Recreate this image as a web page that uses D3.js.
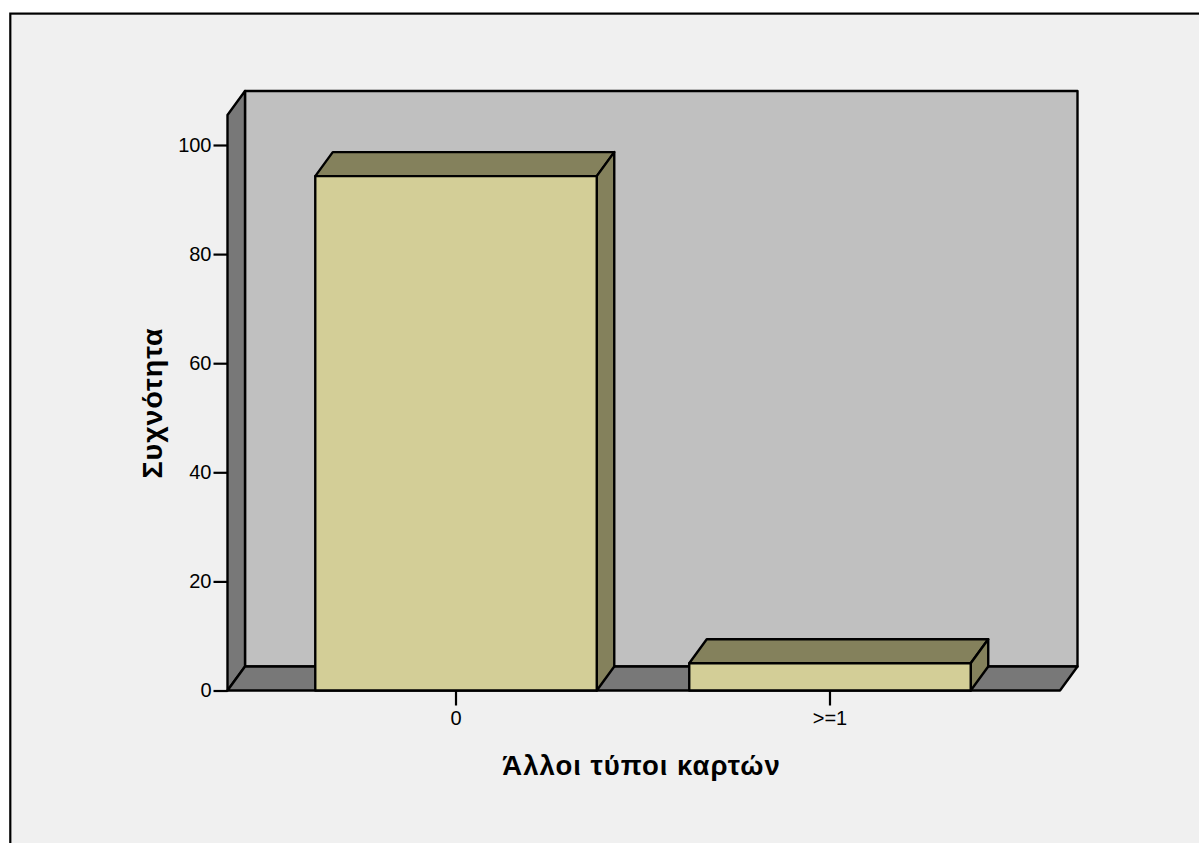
<!DOCTYPE html>
<html><head><meta charset="utf-8">
<style>html,body{margin:0;padding:0;background:#fff}svg{display:block}text{font-family:"Liberation Sans",Arial,sans-serif;fill:#000}</style>
<script src="https://cdn.jsdelivr.net/npm/d3@7"></script></head><body>
<script>
const categories = ["0", ">=1"];
const frequencies = [94.3, 5];
const yTicks = [0, 20, 40, 60, 80, 100];
const xTitle = "Άλλοι τύποι καρτών";
const yTitle = "Συχνότητα";

const W = 1199, H = 843;
const depthX = 17.5, depthY = 24;
const plotLeft = 227.5, plotRight = 1060, plotBottom = 690.5;
const BLACK = "#000", SW = 2.4;
const svg = d3.select("body").append("svg").attr("width", W).attr("height", H);

const y = d3.scaleLinear().domain([0, 100]).range([plotBottom, 145]);
const yMax = 105.5;
const x = d3.scaleBand().domain(categories).range([269, 1017]).paddingInner(0.2473).paddingOuter(0.1237);

const poly = (pts, fill) => svg.append("path")
  .attr("d", d3.line()(pts) + "Z").attr("fill", fill)
  .attr("stroke", BLACK).attr("stroke-width", SW).attr("stroke-linejoin", "round");

// chart frame
svg.append("rect").attr("x", 10.3).attr("y", 13.6).attr("width", W + 20).attr("height", H + 20)
  .attr("fill", "#f0f0f0").attr("stroke", BLACK).attr("stroke-width", 2.2);

// 3D walls
const plotTop = y(yMax);
poly([[plotLeft + depthX, plotTop - depthY], [plotRight + depthX, plotTop - depthY], [plotRight + depthX, plotBottom - depthY], [plotLeft + depthX, plotBottom - depthY]], "#c0c0c0");
poly([[plotLeft, plotTop], [plotLeft + depthX, plotTop - depthY], [plotLeft + depthX, plotBottom - depthY], [plotLeft, plotBottom]], "#787878");
poly([[plotLeft, plotBottom], [plotLeft + depthX, plotBottom - depthY], [plotRight + depthX, plotBottom - depthY], [plotRight, plotBottom]], "#787878");

// bars
categories.forEach((c, i) => {
  const x0 = x(c), x1 = x0 + x.bandwidth(), yt = y(frequencies[i]);
  poly([[x0, yt], [x0 + depthX, yt - depthY], [x1 + depthX, yt - depthY], [x1, yt]], "#84815c");
  poly([[x1, yt], [x1 + depthX, yt - depthY], [x1 + depthX, plotBottom - depthY], [x1, plotBottom]], "#84815c");
  poly([[x0, yt], [x1, yt], [x1, plotBottom], [x0, plotBottom]], "#d3ce97");
});

// axes
const yAxis = svg.append("g").attr("transform", `translate(${plotLeft},0)`)
  .call(d3.axisLeft(y).tickValues(yTicks).tickSize(14).tickPadding(2));
const xAxis = svg.append("g").attr("transform", `translate(0,${plotBottom})`)
  .call(d3.axisBottom(x).tickSize(15).tickPadding(5));
[yAxis, xAxis].forEach(a => {
  a.select(".domain").remove();
  a.selectAll("line").attr("stroke", BLACK).attr("stroke-width", 2.2);
  a.selectAll("text").style("font-family", '"Liberation Sans",Arial,sans-serif').style("font-size", "20px");
});

// titles
svg.append("text").attr("x", 641.5).attr("y", 775).attr("text-anchor", "middle")
  .attr("font-size", 27.5).attr("letter-spacing", 1).attr("font-weight", "bold").text(xTitle);
svg.append("text").attr("transform", "translate(162,403) rotate(-90)").attr("text-anchor", "middle")
  .attr("font-size", 28.5).attr("letter-spacing", 1).attr("font-weight", "bold").text(yTitle);
</script></body></html>
